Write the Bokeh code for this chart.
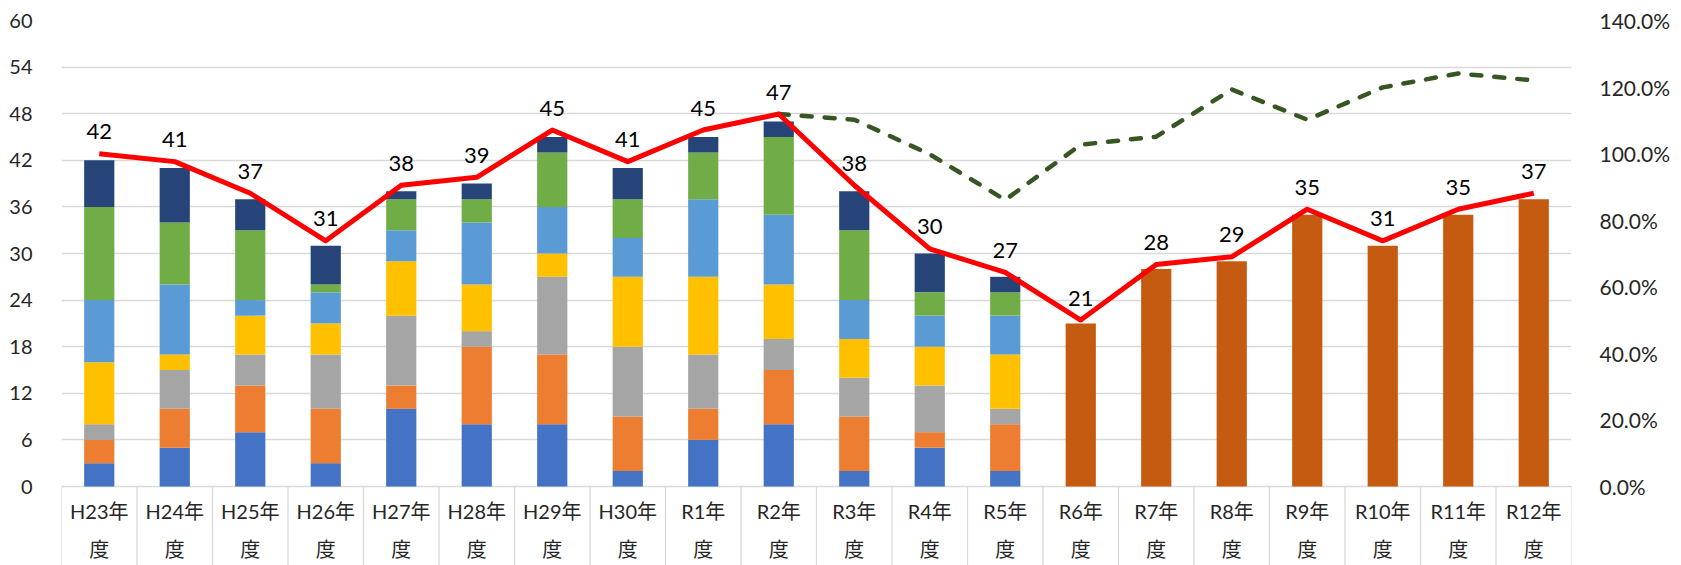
from bokeh.plotting import figure
from bokeh.models import ColumnDataSource, Range1d, LinearAxis, FixedTicker, PrintfTickFormatter
from bokeh.core.properties import value
from bokeh.embed import file_html
from bokeh.resources import INLINE

# ---- data ----
years = ["H23年度", "H24年度", "H25年度", "H26年度", "H27年度", "H28年度", "H29年度",
         "H30年度", "R1年度", "R2年度", "R3年度", "R4年度", "R5年度", "R6年度",
         "R7年度", "R8年度", "R9年度", "R10年度", "R11年度", "R12年度"]
s_blue = [3, 5, 7, 3, 10, 8, 8, 2, 6, 8, 2, 5, 2, 0, 0, 0, 0, 0, 0, 0]
s_orange = [3, 5, 6, 7, 3, 10, 9, 7, 4, 7, 7, 2, 6, 0, 0, 0, 0, 0, 0, 0]
s_gray = [2, 5, 4, 7, 9, 2, 10, 9, 7, 4, 5, 6, 2, 0, 0, 0, 0, 0, 0, 0]
s_yellow = [8, 2, 5, 4, 7, 6, 3, 9, 10, 7, 5, 5, 7, 0, 0, 0, 0, 0, 0, 0]
s_lblue = [8, 9, 2, 4, 4, 8, 6, 5, 10, 9, 5, 4, 5, 0, 0, 0, 0, 0, 0, 0]
s_green = [12, 8, 9, 1, 4, 3, 7, 5, 6, 10, 9, 3, 3, 0, 0, 0, 0, 0, 0, 0]
s_navy = [6, 7, 4, 5, 1, 2, 2, 4, 2, 2, 5, 5, 2, 0, 0, 0, 0, 0, 0, 0]
s_forecast = [0, 0, 0, 0, 0, 0, 0, 0, 0, 0, 0, 0, 0, 21, 28, 29, 35, 31, 35, 37]
totals = [42, 41, 37, 31, 38, 39, 45, 41, 45, 47, 38, 30, 27, 21, 28, 29, 35, 31, 35, 37]
ratio_pct = [100.0, 97.6, 88.1, 73.8, 90.5, 92.9, 107.1, 97.6, 107.1, 111.9,
             90.5, 71.4, 64.3, 50.0, 66.7, 69.0, 83.3, 73.8, 83.3, 88.1]
dash_years = years[9:]
dash_pct = [111.9, 110.2, 99.8, 86.1, 102.7, 105.1, 119.3, 110.2, 119.9, 124.1, 122.0]
left_ticks = [0, 6, 12, 18, 24, 30, 36, 42, 48, 54, 60]
right_ticks = [0, 20, 40, 60, 80, 100, 120, 140]

# ---- layout (pixels) ----
W, H = 1681, 565
TOP, BOTTOM_BAND = 20, 79          # frame top border, band for category labels
PLOT_H = H - TOP - BOTTOM_BAND     # height of the 0..max value area
L_MAX, R_MAX = left_ticks[-1], right_ticks[-1]
band_frac = BOTTOM_BAND / PLOT_H

xs = list(range(len(years)))
dash_xs = [years.index(y) for y in dash_years]
lab1 = [y[:-1] for y in years]
lab2 = [y[-1] for y in years]
bounds = [i - 0.5 for i in range(len(years) + 1)]

keys = ["blue", "orange", "gray", "yellow", "lblue", "green", "navy", "fc"]
colors = ["#4472C4", "#ED7D31", "#A5A5A5", "#FFC000", "#5B9BD5", "#70AD47", "#264478", "#C55A11"]
src = ColumnDataSource(dict(x=xs, blue=s_blue, orange=s_orange, gray=s_gray, yellow=s_yellow,
                            lblue=s_lblue, green=s_green, navy=s_navy, fc=s_forecast))

FONT = "Lato, 'Noto Sans CJK JP'"
TXT = "#262626"
GRID = "#D9D9D9"

y_start = -band_frac * L_MAX
p = figure(width=W, height=H, x_range=Range1d(-0.5, 19.5), y_range=Range1d(y_start, L_MAX),
           output_backend="svg", toolbar_location=None, x_axis_location=None,
           min_border_left=61, min_border_right=110, min_border_top=TOP, min_border_bottom=0)
p.outline_line_color = None
p.background_fill_color = "white"
p.xgrid.visible = False
p.ygrid.grid_line_color = GRID
p.ygrid.grid_line_width = 1.3

ya = p.yaxis[0]
ya.ticker = FixedTicker(ticks=left_ticks)
ya.axis_line_color = None
ya.major_tick_line_color = None
ya.minor_tick_line_color = None
ya.major_label_text_font = FONT
ya.major_label_text_font_size = "20px"
ya.major_label_text_color = TXT
ya.major_label_standoff = 23

p.extra_y_ranges = {"pct": Range1d(-band_frac * R_MAX, R_MAX)}
ra = LinearAxis(y_range_name="pct", ticker=FixedTicker(ticks=right_ticks),
                formatter=PrintfTickFormatter(format="%.1f%%"))
ra.axis_line_color = None
ra.major_tick_line_color = None
ra.minor_tick_line_color = None
ra.major_label_text_font = FONT
ra.major_label_text_font_size = "21px"
ra.major_label_text_color = TXT
ra.major_label_standoff = 22
p.add_layout(ra, "right")

# category separators and labels in the band under the zero line
p.segment(x0=bounds, y0=[0] * len(bounds), x1=bounds, y1=[y_start] * len(bounds),
          line_color=GRID, line_width=1.3)
p.text(x=xs, y=[0] * len(xs), text=lab1, y_offset=24, text_align="center",
       text_baseline="middle", text_font=value(FONT), text_font_size="20px", text_color=TXT)
p.text(x=xs, y=[0] * len(xs), text=lab2, y_offset=62, text_align="center",
       text_baseline="middle", text_font=value(FONT), text_font_size="20px", text_color=TXT)

p.vbar_stack(keys, x="x", width=0.4, color=colors, line_color=None, source=src)

p.line(dash_xs, dash_pct, y_range_name="pct", line_color="#375623", line_width=4.5,
       line_dash="10 13", line_cap="round", line_join="round")
p.line(xs, ratio_pct, y_range_name="pct", line_color="#FF0000", line_width=5, line_join="round")
p.text(x=xs, y=ratio_pct, text=[str(t) for t in totals], y_range_name="pct", y_offset=-22,
       text_align="center", text_baseline="middle", text_font=value("Lato"),
       text_font_size="22px", text_color="#000000")

open("out.html", "w").write(file_html(p, INLINE))
